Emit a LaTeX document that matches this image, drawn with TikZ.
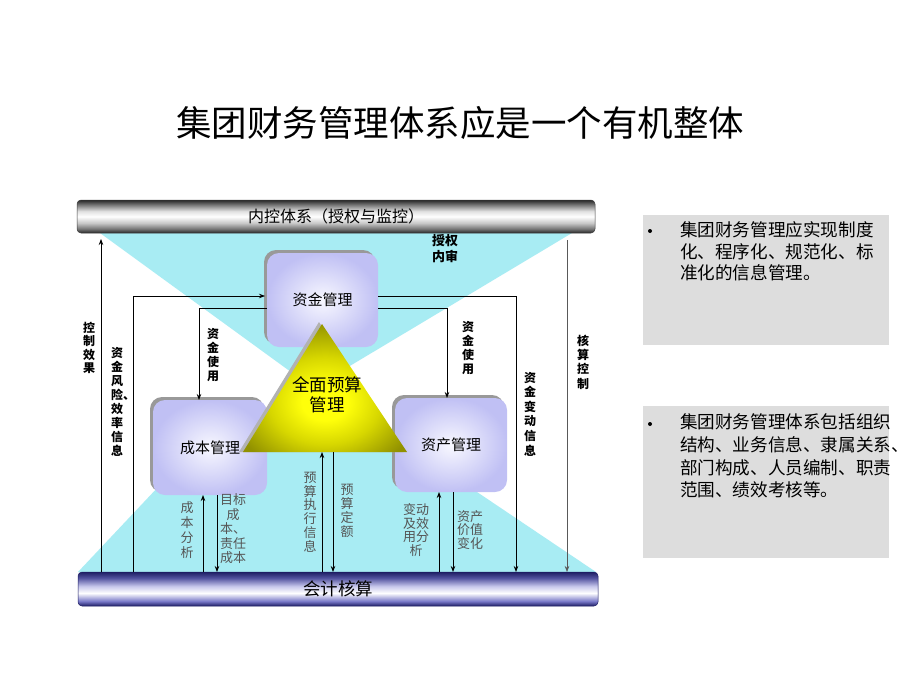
\documentclass[tikz,border=0pt]{standalone}
\usepackage{fontspec}
\setmainfont{Noto Sans CJK SC}
\usetikzlibrary{arrows.meta,shadows}
\definecolor{cyanfill}{RGB}{168,236,243}
\definecolor{boxin}{RGB}{248,248,255}
\definecolor{boxout}{RGB}{192,192,244}
\definecolor{lblgray}{RGB}{85,85,85}
\definecolor{panel}{RGB}{221,221,221}
\definecolor{navyc}{RGB}{30,30,100}
\definecolor{lavc}{RGB}{120,120,200}
\definecolor{lavl}{RGB}{200,200,236}
\definecolor{triin}{RGB}{255,255,10}
\definecolor{trimid}{RGB}{215,215,0}
\definecolor{triout}{RGB}{145,145,0}
\pgfdeclareverticalshading{graybar}{100bp}{color(0bp)=(black!85); color(25bp)=(black!85); color(31bp)=(black!55); color(40bp)=(black!22); color(50bp)=(white); color(58bp)=(black!12); color(67bp)=(black!50); color(75bp)=(black!85); color(100bp)=(black!85)}
\pgfdeclareverticalshading{bluebar}{100bp}{color(0bp)=(navyc); color(25bp)=(navyc); color(32bp)=(lavc); color(44bp)=(white); color(54bp)=(lavl); color(66bp)=(lavc!60!navyc); color(75bp)=(navyc); color(100bp)=(navyc)}
\pgfdeclareradialshading{triball}{\pgfpoint{0bp}{-6bp}}{color(0bp)=(triin); color(7bp)=(triin); color(17bp)=(trimid); color(30bp)=(triout); color(100bp)=(triout)}
\tikzset{
  bandbox/.style={minimum height=33pt, rounded corners=4pt, draw=black!75, line width=0.5pt},
  mbox/.style={minimum width=111pt, minimum height=94pt, rounded corners=12pt, inner color=boxin, outer color=boxout,
    drop shadow={shadow xshift=-3pt,shadow yshift=3pt,fill=black!40,opacity=1}, font=\fontsize{15}{18}\selectfont},
  arr/.style={-{Stealth[length=6pt,width=4.5pt]}, line width=0.8pt},
  vlab/.style={font=\bfseries\fontsize{12}{14}\selectfont, align=center},
  glab/.style={text=lblgray, align=center},
  panelbox/.style={fill=panel, anchor=north west, minimum width=246pt},
  ptext/.style={anchor=north west, align=left},
  bulletdot/.style={circle, fill=black, minimum size=4pt},
}
\begin{document}
\begin{tikzpicture}[x=1pt,y=-1pt, every node/.style={inner sep=0pt, outer sep=0pt}]
\path[fill=white] (0,0) rectangle (920,690);
\useasboundingbox (0,0) rectangle (920,690);

% title
\node[font=\fontsize{35.5}{40}\selectfont] (title) at (460,123) {集团财务管理体系应是一个有机整体};

% cyan regions
\fill[cyanfill] (100,233) -- (572,233) -- (313,388) -- cycle;
\fill[cyanfill] (78,572) -- (596,572) -- (477,492) -- (420,440) -- (330,440) -- (230,440) -- (160,485) -- cycle;

% bars
\node[bandbox, minimum width=518pt, shading=graybar, font=\fontsize{16}{18}\selectfont] (nk) at (336,216.5) {内控体系（授权与监控）};
\node[bandbox, minimum width=520pt, minimum height=34pt, shading=bluebar, draw=navyc, font=\fontsize{17.5}{20}\selectfont] (kj) at (338,589) {会计核算};

% boxes
\node[mbox] (zj) at (322.5,300) {资金管理};
\node[mbox, minimum width=114pt, minimum height=95pt] (cb) at (210,447.5) {成本管理};
\node[mbox, minimum width=112pt] (zc) at (451,445) {资产管理};

% triangle
\fill[black!30] (319,322) -- (239,452) -- (403,452) -- cycle;
\shade[shading=triball] (322,324) -- (243,452) -- (407,452) -- cycle;
\node[align=center, font=\fontsize{17.5}{20}\selectfont] (tri) at (327,395) {全面预算\\管理};
\coordinate (tb) at (325,452);

% column / row coordinates
\coordinate (xa) at (101,0);
\coordinate (xb) at (133,0);
\coordinate (xc) at (199,0);
\coordinate (xd) at (203,0);
\coordinate (xe) at (217,0);
\coordinate (xf) at (322,0);
\coordinate (xg) at (333,0);
\coordinate (xh) at (439,0);
\coordinate (xi) at (447,0);
\coordinate (xj) at (453,0);
\coordinate (xk) at (516,0);
\coordinate (xl) at (567,0);
\coordinate (ya) at (0,296);
\coordinate (yb) at (0,308);

% connectors
\draw[arr, shorten >=6pt] (kj.north -| xa) -- (nk.south -| xa);
\draw[arr, shorten >=2pt] (kj.north -| xb) |- (zj.west |- ya);
\draw[arr] (zj.west |- yb) -| (cb.north -| xc);
\draw[arr] (zj.east |- ya) -| (kj.north -| xk);
\draw[arr] (zj.east |- yb) -| (zc.north -| xi);
\draw[arr, black!65, line width=0.6pt, shorten <=7pt] (nk.south -| xl) -- (kj.north -| xl);
\draw[arr] (kj.north -| xd) -- (cb.south -| xd);
\draw[arr] (cb.south -| xe) -- (kj.north -| xe);
\draw[arr] (kj.north -| xf) -- (tb -| xf);
\draw[arr] (tb -| xg) -- (kj.north -| xg);
\draw[arr] (kj.north -| xh) -- (zc.south -| xh);
\draw[arr] (zc.south -| xj) -- (kj.north -| xj);

% black labels
\node[vlab, font=\bfseries\fontsize{12}{13.5}\selectfont] (l1) at (89,348) {控\\制\\效\\果};
\node[vlab] (l2) at (117,402) {资\\金\\风\\险\rlap{、}\\效\\率\\信\\息};
\node[vlab] (l3) at (213,355) {资\\金\\使\\用};
\node[vlab] (l4) at (468,348) {资\\金\\使\\用};
\node[vlab, font=\bfseries\fontsize{12}{14.6}\selectfont] (l5) at (530,414) {资\\金\\变\\动\\信\\息};
\node[vlab, font=\bfseries\fontsize{12}{14.3}\selectfont] (l6) at (583,362) {核\\算\\控\\制};
\node[vlab, font=\bfseries\fontsize{13}{16}\selectfont] (l7) at (445,249) {授权\\内审};

% gray labels
\node[glab, font=\fontsize{13}{15}\selectfont] (g1) at (187,530) {成\\本\\分\\析};
\node[glab, font=\fontsize{13}{14.5}\selectfont] (g2) at (233,529) {目标\\成\\本、\\责任\\成本};
\node[glab, font=\fontsize{13}{13.8}\selectfont] (g3) at (310,512) {预\\算\\执\\行\\信\\息};
\node[glab, font=\fontsize{13}{14}\selectfont] (g4) at (347,511) {预\\算\\定\\额};
\node[glab, font=\fontsize{13}{13.5}\selectfont] (g5) at (416,530) {变动\\及效\\用分\\析};
\node[glab, font=\fontsize{13}{13.2}\selectfont] (g6) at (470,530) {资产\\价值\\变化};

% right panels
\node[panelbox, minimum height=130pt] (p1) at (643,215) {};
\node[panelbox, minimum height=152pt] (p2) at (643,406) {};
\node[bulletdot] (b1) at (650,231) {};
\node[bulletdot] (b2) at (650,424) {};
\node[ptext, font=\fontsize{17.6}{21.5}\selectfont] (t1) at (680,222) {集团财务管理应实现制度\\化、程序化、规范化、标\\准化的信息管理。};
\node[ptext, font=\fontsize{17.6}{22.7}\selectfont] (t2) at (680,414) {集团财务管理体系包括组织\\结构、业务信息、隶属关系、\\部门构成、人员编制、职责\\范围、绩效考核等。};
\end{tikzpicture}
\end{document}
